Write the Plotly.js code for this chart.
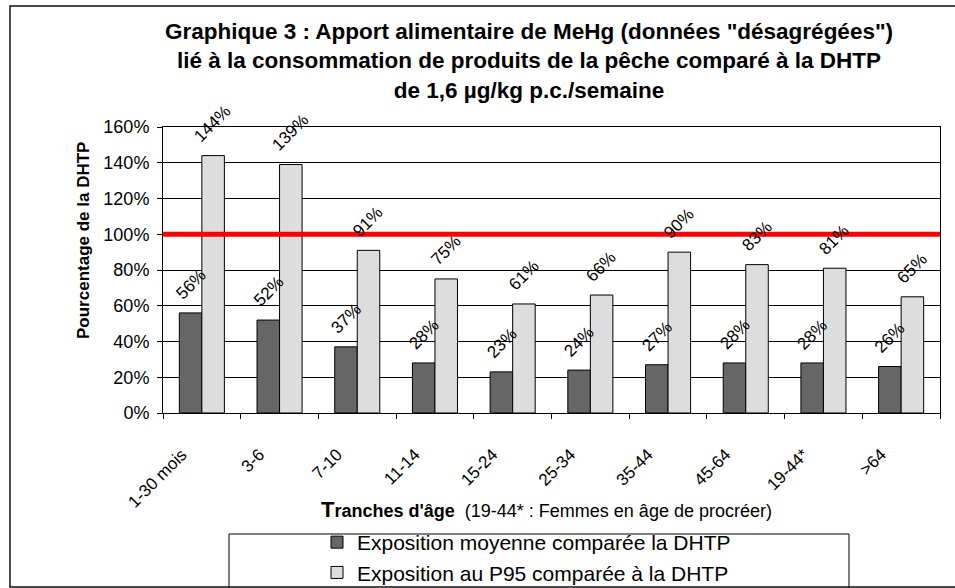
<!DOCTYPE html>
<html>
<head>
<meta charset="utf-8">
<script src="https://cdn.plot.ly/plotly-3.0.1.min.js"></script>
<style>
html,body{margin:0;padding:0;background:#fff}
#chart{width:955px;height:588px}
</style>
</head>
<body>
<div id="chart"></div>
<script>

/* DATA */

const ageGroups = ["1-30 mois","3-6","7-10","11-14","15-24","25-34","35-44","45-64","19-44*",">64"]

const meanPct = [56,52,37,28,23,24,27,28,28,26]

const p95Pct = [144,139,91,75,61,66,90,83,81,65]

const dhtpRef = 100

const meanName = "Exposition moyenne comparée la DHTP"
const p95Name = "Exposition au P95 comparée à la DHTP"

const FONT = "Liberation Sans, Arial, sans-serif"

/* PLOT AREA IN PIXELS, FOR PAPER COORDS */

const L = 163, R = 15, T = 127, B = 175
const W = 955 - L - R
const H = 588 - T - B

function px(x){ return (x - L) / W }
function py(y){ return (588 - B - y) / H }

/* BARS */

const traces = [
{
x: ageGroups,
y: meanPct,
type: "bar",
name: meanName,
marker: {color: "#666666", line: {color: "#000", width: 1}}
},
{
x: ageGroups,
y: p95Pct,
type: "bar",
name: p95Name,
marker: {color: "#dddddd", line: {color: "#000", width: 1}}
}
]

/* ROTATED VALUE LABELS */

let annotations = []

function addLabels(values, shift){
values.forEach(function(v, i){
annotations.push({
x: ageGroups[i],
y: v,
xref: "x",
yref: "y",
text: v + "%",
showarrow: false,
textangle: -45,
xanchor: "center",
yanchor: "bottom",
xshift: shift,
yshift: 7,
font: {family: FONT, size: 17, color: "#000"}
})
})
}

addLabels(meanPct, -11)
addLabels(p95Pct, 11)

/* AXIS TITLES */

annotations.push({
xref: "paper", yref: "paper",
x: px(83), y: py(241),
xanchor: "center", yanchor: "middle",
text: "<b>Pourcentage de la DHTP</b>",
textangle: -90,
showarrow: false,
font: {family: FONT, size: 17, color: "#000"}
})

annotations.push({
xref: "paper", yref: "paper",
x: px(546), y: py(509),
xanchor: "center", yanchor: "middle",
text: "<b><span style='font-size:22px'>T</span>ranches d'âge</b>  (19-44* : Femmes en âge de procréer)",
showarrow: false,
font: {family: FONT, size: 18, color: "#000"}
})

/* SHAPES: DHTP LINE, LEGEND BOX, OUTER FRAME */

const shapes = [
{
type: "line", xref: "paper", yref: "y",
x0: 0, x1: 1, y0: dhtpRef, y1: dhtpRef,
line: {color: "#ff0000", width: 5},
layer: "above"
},
{
type: "rect", xref: "paper", yref: "paper",
x0: px(229), x1: px(849), y0: py(600), y1: py(534),
line: {color: "#000", width: 1}
},
{
type: "rect", xref: "paper", yref: "paper",
x0: px(10), x1: px(958), y0: py(587), y1: py(6),
line: {color: "#111", width: 1.5}
}
]

const layout = {
width: 955,
height: 588,
margin: {l: L, r: R, t: T, b: B, autoexpand: false},
paper_bgcolor: "#fff",
plot_bgcolor: "#fff",
font: {family: FONT, color: "#000"},
title: {
text: "<b>Graphique 3 : Apport alimentaire de MeHg (données \"désagrégées\")<br>lié à la consommation de produits de la pêche comparé à la DHTP<br>de 1,6 µg/kg p.c./semaine</b>",
font: {family: FONT, size: 22.5, color: "#000"},
xref: "container", yref: "container",
x: 529 / 955, xanchor: "center",
y: 1 - 39 / 588, yanchor: "top"
},
barmode: "group",
bargap: 0.42,
bargroupgap: 0,
showlegend: true,
legend: {
orientation: "v",
x: px(317), xanchor: "left",
y: py(522), yanchor: "top",
bgcolor: "rgba(0,0,0,0)",
font: {family: FONT, size: 21, color: "#000"}
},
xaxis: {
type: "category",
tickangle: -45,
tickson: "boundaries",
ticks: "outside",
ticklen: 5,
tickcolor: "#000",
showline: true,
linecolor: "#000",
linewidth: 1,
mirror: true,
showgrid: false,
ticklabelstandoff: 24,
ticklabelshift: -20,
tickfont: {family: FONT, size: 17, color: "#000"}
},
yaxis: {
range: [0, 160],
dtick: 20,
ticksuffix: "%",
ticks: "outside",
ticklen: 5,
tickcolor: "#000",
showline: true,
linecolor: "#000",
linewidth: 1,
mirror: true,
showgrid: true,
gridcolor: "#000",
gridwidth: 1,
zeroline: false,
ticklabelstandoff: 4,
tickfont: {family: FONT, size: 18, color: "#000"}
},
annotations: annotations,
shapes: shapes
}

Plotly.newPlot("chart", traces, layout, {displayModeBar: false, staticPlot: true})

</script>
</body>
</html>
